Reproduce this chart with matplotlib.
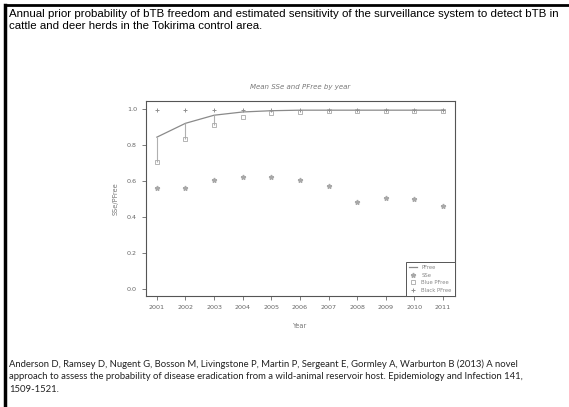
import matplotlib
matplotlib.use('Agg')
import matplotlib.pyplot as plt
from matplotlib.lines import Line2D

years = [2001, 2002, 2003, 2004, 2005, 2006, 2007, 2008, 2009, 2010, 2011]
pfree = [0.843, 0.92, 0.965, 0.983, 0.99, 0.993, 0.993, 0.993, 0.993, 0.993, 0.993]
sse = [0.56, 0.56, 0.605, 0.62, 0.62, 0.605, 0.57, 0.485, 0.505, 0.50, 0.46]
blue_pfree = [0.707, 0.83, 0.91, 0.954, 0.976, 0.985, 0.99, 0.99, 0.99, 0.99, 0.99]
black_pfree = [0.995, 0.995, 0.995, 0.995, 0.995, 0.995, 0.995, 0.995, 0.995, 0.995, 0.995]

legend_labels = ['PFree', 'SSe', 'Blue PFree', 'Black PFree']

title_text = ('Annual prior probability of bTB freedom and estimated sensitivity of the surveillance system to detect bTB in\n'
              'cattle and deer herds in the Tokirima control area.')
ref_text = ('Anderson D, Ramsey D, Nugent G, Bosson M, Livingstone P, Martin P, Sergeant E, Gormley A, Warburton B (2013) A novel\n'
            'approach to assess the probability of disease eradication from a wild-animal reservoir host. Epidemiology and Infection 141,\n'
            '1509-1521.')

W, H = 569, 407
fig = plt.figure(figsize=(W / 100, H / 100), dpi=100)

# outer frame (top and left edges only, like the slide crop)
fig.add_artist(Line2D([5 / W, 1], [1 - 5 / H, 1 - 5 / H], color='black', lw=2))
fig.add_artist(Line2D([5 / W, 5 / W], [0, 1 - 5 / H], color='black', lw=2.5))

fig.text(9 / W, 1 - 9 / H, title_text, fontsize=8.25, family='Liberation Sans',
         va='top', ha='left', linespacing=1.2)
fig.text(9 / W, 1 - 359 / H, ref_text, fontsize=6.85, family='Lato',
         va='top', ha='left', linespacing=1.5, color='#222222')

grey = '#8a8a8a'
ax = fig.add_axes([146 / W, 1 - 296 / H, 309 / W, 195 / H])
ax.plot(years, pfree, color=grey, lw=0.9, label=legend_labels[0])
ax.vlines(years[:3], blue_pfree[:3], pfree[:3], color='#b0b0b0', lw=0.8)
ax.plot(years, sse, ls='none', marker='*', ms=3.5, color='#a8a8a8', label=legend_labels[1])
ax.plot(years, blue_pfree, ls='none', marker='s', ms=2.5, mfc='none', mew=0.6,
        color='#a8a8a8', label=legend_labels[2])
ax.plot(years, black_pfree, ls='none', marker='+', ms=3.5, mew=0.7,
        color='#909090', label=legend_labels[3])

ax.set_xlim(2000.62, 2011.42)
ax.set_ylim(-0.04, 1.044)
ax.set_xticks(years)
ax.set_yticks([0.0, 0.2, 0.4, 0.6, 0.8, 1.0])
ax.set_yticklabels(['0.0', '0.2', '0.4', '0.6', '0.8', '1.0'])
ax.tick_params(labelsize=4.6, colors='#666666', length=3, width=0.6)
for s in ax.spines.values():
    s.set_color('#555555')
    s.set_linewidth(0.8)
ax.set_title('Mean SSe and PFree by year', fontsize=5, style='italic', color='#777777', pad=9)
ax.set_xlabel('Year', fontsize=4.8, color='#777777', labelpad=9)
ax.set_ylabel('SSe/PFree', fontsize=4.8, color='#777777', labelpad=6)

leg = ax.legend(loc='lower right', fontsize=3.8, borderaxespad=0, fancybox=False,
                edgecolor='#555555', handlelength=1.6, labelspacing=0.5,
                borderpad=0.6, framealpha=1)
leg.get_frame().set_linewidth(0.7)
for t in leg.get_texts():
    t.set_color('#888888')

fig.savefig('out.png', dpi=100)
